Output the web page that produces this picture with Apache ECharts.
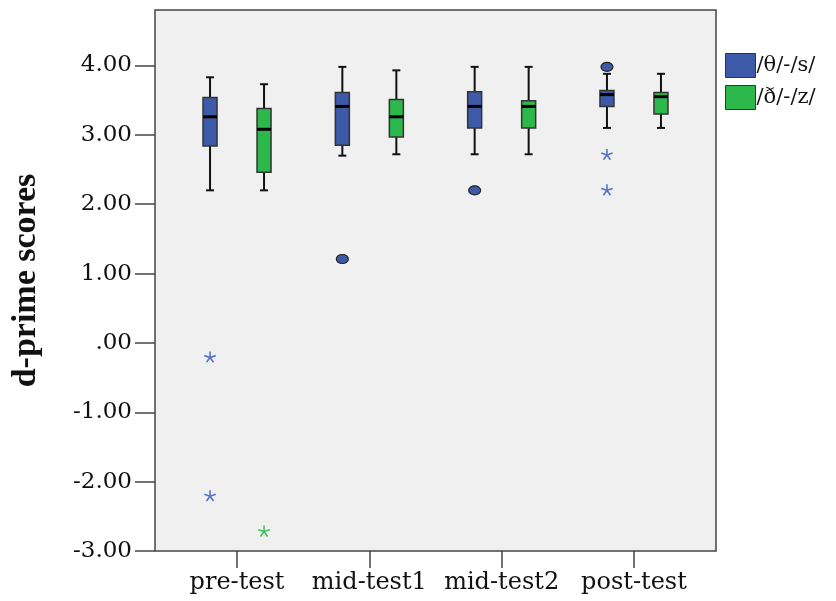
<!DOCTYPE html>
<html>
<head>
<meta charset="utf-8">
<script src="https://cdn.jsdelivr.net/npm/echarts@6/dist/echarts.min.js"></script>
<style>
html,body{margin:0;padding:0;background:#fff;}
#chart{width:836px;height:601px;}
</style>
</head>
<body>
<div id="chart"></div>
<script>
var categories = ['pre-test', 'mid-test1', 'mid-test2', 'post-test'];
var groupNames = ['/θ/-/s/', '/ð/-/z/'];
var yTicks = [-3, -2, -1, 0, 1, 2, 3, 4];

// [category, min, q1, median, q3, max]
var thetaBoxes = [
    [0, 2.20, 2.84, 3.26, 3.54, 3.83],
    [1, 2.70, 2.85, 3.41, 3.61, 3.98],
    [2, 2.72, 3.10, 3.41, 3.62, 3.98],
    [3, 3.10, 3.41, 3.58, 3.64, 3.88]
];
var ethBoxes = [
    [0, 2.20, 2.46, 3.08, 3.38, 3.73],
    [1, 2.72, 2.97, 3.26, 3.51, 3.93],
    [2, 2.72, 3.10, 3.41, 3.49, 3.98],
    [3, 3.10, 3.30, 3.55, 3.61, 3.88]
];
// outliers: [category, value]
var thetaCircles = [[1, 1.21], [2, 2.20], [3, 3.98]];
var thetaStars = [[0, -0.21], [0, -2.21], [3, 2.71], [3, 2.20]];
var ethCircles = [];
var ethStars = [[0, -2.72]];

var blue = '#3d5aa9';
var green = '#2db84b';
var blueStar = '#5672c8';
var greenStar = '#3cc35c';
var font = 'DejaVu Serif';
var shift = 27;

function boxRenderer(dx, fill) {
    return function (params, api) {
        var cat = api.value(0);
        var x = api.coord([cat, 0])[0] + dx;
        var yMin = api.coord([cat, api.value(1)])[1];
        var yQ1 = api.coord([cat, api.value(2)])[1];
        var yMed = api.coord([cat, api.value(3)])[1];
        var yQ3 = api.coord([cat, api.value(4)])[1];
        var yMax = api.coord([cat, api.value(5)])[1];
        var hw = 7, cw = 4;
        var wl = {stroke: '#111', lineWidth: 2};
        return {
            type: 'group',
            children: [
                {type: 'line', shape: {x1: x, y1: yQ3, x2: x, y2: yMax}, style: wl},
                {type: 'line', shape: {x1: x, y1: yQ1, x2: x, y2: yMin}, style: wl},
                {type: 'line', shape: {x1: x - cw, y1: yMax, x2: x + cw, y2: yMax}, style: wl},
                {type: 'line', shape: {x1: x - cw, y1: yMin, x2: x + cw, y2: yMin}, style: wl},
                {type: 'rect', shape: {x: x - hw, y: yQ3, width: hw * 2, height: yQ1 - yQ3},
                    style: {fill: fill, stroke: '#333', lineWidth: 1.5}},
                {type: 'line', shape: {x1: x - hw, y1: yMed, x2: x + hw, y2: yMed},
                    style: {stroke: '#000', lineWidth: 3}}
            ]
        };
    };
}

function circleRenderer(dx, fill) {
    return function (params, api) {
        var c = api.coord([api.value(0), api.value(1)]);
        return {
            type: 'ellipse',
            shape: {cx: c[0] + dx, cy: c[1], rx: 6, ry: 4.5},
            style: {fill: fill, stroke: '#222', lineWidth: 1.2}
        };
    };
}

function starRenderer(dx, color) {
    return function (params, api) {
        var c = api.coord([api.value(0), api.value(1)]);
        var arms = [];
        for (var i = 0; i < 5; i++) {
            var a = -Math.PI / 2 + i * 2 * Math.PI / 5;
            arms.push({type: 'line',
                shape: {x1: c[0] + dx, y1: c[1], x2: c[0] + dx + 6 * Math.cos(a), y2: c[1] + 6 * Math.sin(a)},
                style: {stroke: color, lineWidth: 1.6}});
        }
        return {type: 'group', children: arms};
    };
}

var option = {
    animation: false,
    backgroundColor: '#fff',
    grid: {
        left: 155, right: 120, top: 10, bottom: 50,
        show: true, backgroundColor: '#f0f0f0', borderColor: '#444', borderWidth: 1.5
    },
    legend: {
        orient: 'vertical',
        left: 720, top: 48,
        itemWidth: 30, itemHeight: 24, itemGap: 7,
        icon: 'rect',
        itemStyle: {borderColor: '#333', borderWidth: 1},
        textStyle: {fontFamily: font, fontSize: 21, color: '#111', padding: [0, 0, 0, -4]},
        data: groupNames
    },
    xAxis: {
        type: 'value',
        min: -0.62, max: 3.62,
        splitLine: {show: false},
        axisLine: {show: false, onZero: false},
        axisTick: {show: true, length: 17, customValues: [0, 1, 2, 3],
            lineStyle: {color: '#444', width: 1.5}},
        axisLabel: {
            customValues: [0, 1, 2, 3],
            margin: 20,
            fontFamily: font, fontSize: 24, color: '#111',
            formatter: function (v) { return categories[Math.round(v)]; }
        }
    },
    yAxis: {
        type: 'value',
        min: -3, max: 4.8,
        name: 'd-prime scores',
        nameLocation: 'middle',
        nameGap: 112,
        nameTextStyle: {fontFamily: 'Liberation Serif', fontWeight: 'bold', fontSize: 34, color: '#111'},
        splitLine: {show: false},
        axisLine: {show: false, onZero: false},
        axisTick: {show: true, length: 20, customValues: yTicks,
            lineStyle: {color: '#444', width: 1.5}},
        axisLabel: {
            customValues: yTicks,
            margin: 23,
            fontFamily: font, fontSize: 23, color: '#111',
            formatter: function (v) { return v === 0 ? '.00' : v.toFixed(2); }
        }
    },
    series: [
        {name: groupNames[0], type: 'custom', renderItem: boxRenderer(-shift, blue),
            itemStyle: {color: blue}, encode: {x: 0, y: [1, 2, 3, 4, 5]}, data: thetaBoxes, z: 3},
        {name: groupNames[1], type: 'custom', renderItem: boxRenderer(shift, green),
            itemStyle: {color: green}, encode: {x: 0, y: [1, 2, 3, 4, 5]}, data: ethBoxes, z: 3},
        {name: groupNames[0], type: 'custom', renderItem: circleRenderer(-shift, blue),
            itemStyle: {color: blue}, encode: {x: 0, y: 1}, data: thetaCircles, z: 4},
        {name: groupNames[0], type: 'custom', renderItem: starRenderer(-shift, blueStar),
            itemStyle: {color: blue}, encode: {x: 0, y: 1}, data: thetaStars, z: 4},
        {name: groupNames[1], type: 'custom', renderItem: circleRenderer(shift, green),
            itemStyle: {color: green}, encode: {x: 0, y: 1}, data: ethCircles, z: 4},
        {name: groupNames[1], type: 'custom', renderItem: starRenderer(shift, greenStar),
            itemStyle: {color: green}, encode: {x: 0, y: 1}, data: ethStars, z: 4}
    ]
};

var chart = echarts.init(document.getElementById('chart'));
chart.setOption(option);
</script>
</body>
</html>
